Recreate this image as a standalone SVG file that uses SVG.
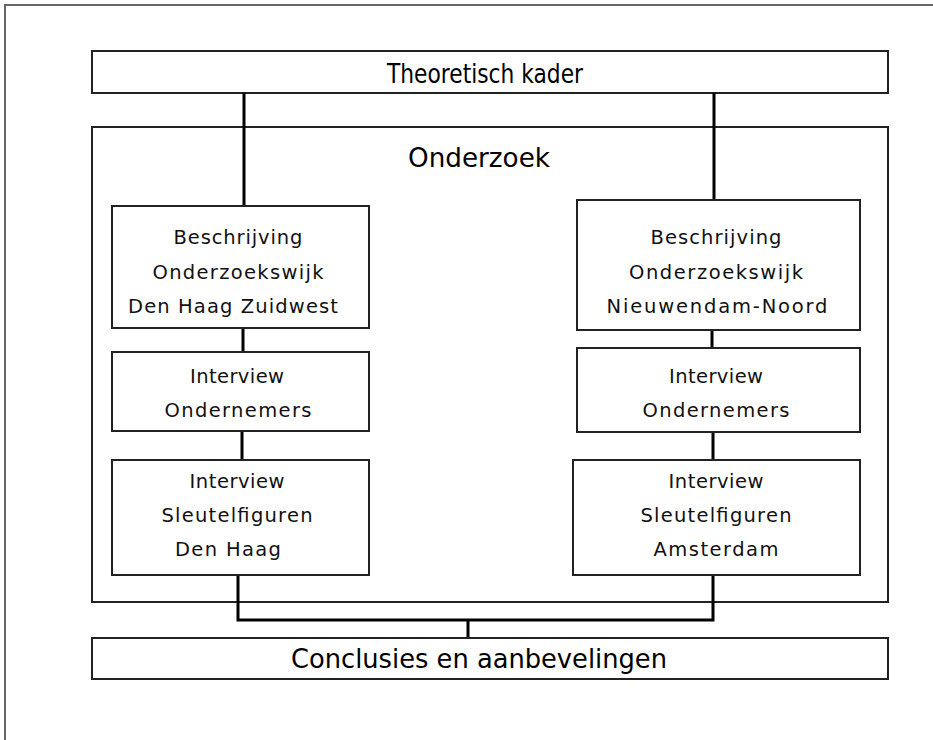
<svg xmlns="http://www.w3.org/2000/svg" width="933" height="740" viewBox="0 0 933 740">
<style>
.box{fill:#fff;stroke:#222;stroke-width:2}
.frame{fill:#fff;stroke:#666;stroke-width:2}
.big{font-family:"DejaVu Sans",sans-serif;font-size:27px;fill:#000;text-anchor:middle}
.sm{font-family:"DejaVu Sans",sans-serif;font-size:19.5px;fill:#111;text-anchor:middle}
.con{fill:none;stroke:#000;stroke-width:3;stroke-linecap:butt}
</style>
<rect class="frame" x="5" y="5" width="1000" height="1000"/>
<g id="theoretisch">
<rect class="box" x="92" y="51" width="796" height="42"/>
<text class="big" x="485" y="83" textLength="196" lengthAdjust="spacingAndGlyphs">Theoretisch kader</text>
</g>
<g id="onderzoek">
<rect class="box" x="92" y="127" width="796" height="475"/>
<text class="big" x="479" y="167" textLength="142" lengthAdjust="spacingAndGlyphs">Onderzoek</text>
</g>
<g id="connectors">
<path class="con" d="M244 93V206M714 93V200M243 328V352M712 330V348M242 431V460M713 432V460M238 575V620H713V573M468 620V638"/>
</g>
<g id="beschrijving-dh">
<rect class="box" x="112" y="206" width="257" height="122"/>
<text class="sm" x="238" y="244" textLength="129" lengthAdjust="spacing">Beschrijving</text>
<text class="sm" x="238" y="279" textLength="171" lengthAdjust="spacing">Onderzoekswijk</text>
<text class="sm" x="233" y="313" textLength="210" lengthAdjust="spacing">Den Haag Zuidwest</text>
</g>
<g id="ondernemers-dh">
<rect class="box" x="112" y="352" width="257" height="79"/>
<text class="sm" x="237" y="383" textLength="94" lengthAdjust="spacing">Interview</text>
<text class="sm" x="238" y="417" textLength="147" lengthAdjust="spacing">Ondernemers</text>
</g>
<g id="sleutel-dh">
<rect class="box" x="112" y="460" width="257" height="115"/>
<text class="sm" x="237" y="488" textLength="95" lengthAdjust="spacing">Interview</text>
<text class="sm" x="237" y="522" textLength="151" lengthAdjust="spacing">Sleutelfiguren</text>
<text class="sm" x="228" y="556" textLength="106" lengthAdjust="spacing">Den Haag</text>
</g>
<g id="beschrijving-nn">
<rect class="box" x="577" y="200" width="283" height="130"/>
<text class="sm" x="716" y="244" textLength="131" lengthAdjust="spacing">Beschrijving</text>
<text class="sm" x="716" y="279" textLength="174" lengthAdjust="spacing">Onderzoekswijk</text>
<text class="sm" x="717" y="313" textLength="221" lengthAdjust="spacing">Nieuwendam-Noord</text>
</g>
<g id="ondernemers-nn">
<rect class="box" x="577" y="348" width="283" height="84"/>
<text class="sm" x="716" y="383" textLength="94" lengthAdjust="spacing">Interview</text>
<text class="sm" x="716" y="417" textLength="147" lengthAdjust="spacing">Ondernemers</text>
</g>
<g id="sleutel-ams">
<rect class="box" x="573" y="460" width="287" height="115"/>
<text class="sm" x="716" y="488" textLength="95" lengthAdjust="spacing">Interview</text>
<text class="sm" x="716" y="522" textLength="151" lengthAdjust="spacing">Sleutelfiguren</text>
<text class="sm" x="716" y="556" textLength="125" lengthAdjust="spacing">Amsterdam</text>
</g>
<g id="conclusies">
<rect class="box" x="92" y="638" width="796" height="41"/>
<text class="big" x="479" y="668" textLength="376" lengthAdjust="spacingAndGlyphs">Conclusies en aanbevelingen</text>
</g>
</svg>
